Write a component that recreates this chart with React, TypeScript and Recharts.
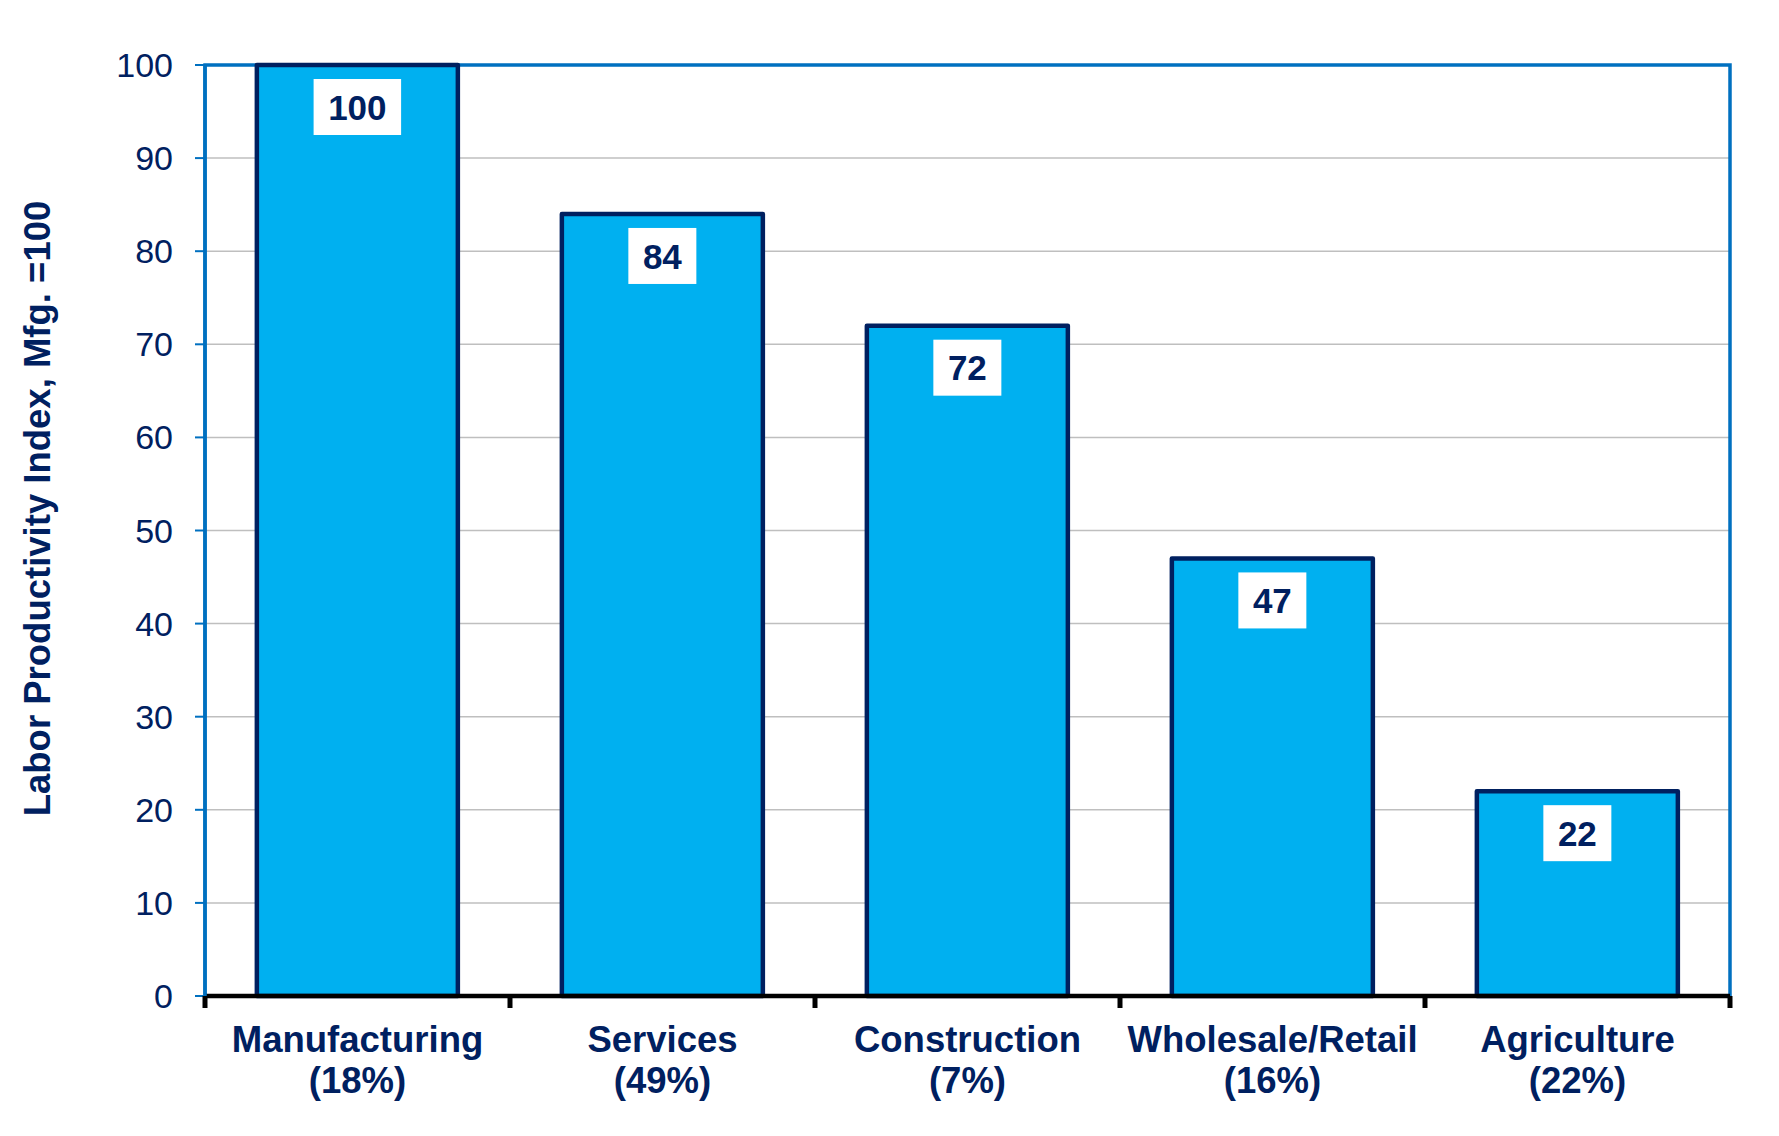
import { BarChart, Bar, XAxis, YAxis, CartesianGrid, LabelList, ReferenceArea } from 'recharts';

const sectors = ['Manufacturing', 'Services', 'Construction', 'Wholesale/Retail', 'Agriculture'];
const employmentShares = ['(18%)', '(49%)', '(7%)', '(16%)', '(22%)'];
const productivityIndex = [100, 84, 72, 47, 22];
const yTicks = [0, 10, 20, 30, 40, 50, 60, 70, 80, 90, 100];
const yTitle = 'Labor Productivity Index, Mfg. =100';

const NAVY = '#002060';
const BORDER_BLUE = '#0070C0';
const BAR_FILL = '#00B0F0';
const FONT = '"Liberation Sans", Arial, sans-serif';

const CHART_W = 1771;
const CHART_H = 1128;
const MARGIN = { top: 57, right: 49, bottom: 10, left: 0 };
const Y_AXIS_W = 197;
const X_AXIS_H = 130;
// width of one category band, used to put the x ticks on the band edges
const BAND = (CHART_W - MARGIN.left - MARGIN.right - Y_AXIS_W) / sectors.length;

const data = sectors.map((sector, i) => ({
  sector,
  share: employmentShares[i],
  value: productivityIndex[i],
}));

function CategoryTick(props: any) {
  const { x, y, payload } = props;
  const index = sectors.indexOf(payload.value);
  const half = BAND / 2;
  const isLast = index === sectors.length - 1;
  const textProps = {
    textAnchor: 'middle' as const,
    fill: NAVY,
    fontSize: 36.5,
    fontWeight: 'bold',
    fontFamily: FONT,
  };
  return (
    <g>
      <line x1={x - half} x2={x - half} y1={y} y2={y + 12} stroke="#000" strokeWidth={5} />
      {isLast && <line x1={x + half} x2={x + half} y1={y} y2={y + 12} stroke="#000" strokeWidth={5} />}
      <text x={x} y={y + 56} {...textProps}>
        {payload.value}
      </text>
      <text x={x} y={y + 97} {...textProps}>
        {employmentShares[index]}
      </text>
    </g>
  );
}

function ValueBadge(props: any) {
  const { x, y, width, value } = props;
  const text = String(value);
  const boxW = text.length * 19.5 + 29;
  const cx = Number(x) + Number(width) / 2;
  const top = Number(y) + 14;
  return (
    <g>
      <rect x={cx - boxW / 2} y={top} width={boxW} height={56} fill="#ffffff" />
      <text
        x={cx}
        y={top + 28}
        dy="0.36em"
        textAnchor="middle"
        fill={NAVY}
        fontSize={35}
        fontWeight="bold"
        fontFamily={FONT}
      >
        {text}
      </text>
    </g>
  );
}

function YTitle(props: any) {
  const { viewBox } = props;
  const cx = viewBox.x + 29;
  const cy = viewBox.y + viewBox.height / 2 - 22;
  return (
    <text
      x={cx}
      y={cy}
      dy="0.36em"
      transform={`rotate(-90, ${cx}, ${cy})`}
      textAnchor="middle"
      fill={NAVY}
      fontSize={36.5}
      fontWeight="bold"
      fontFamily={FONT}
    >
      {yTitle}
    </text>
  );
}

export default function App() {
  return (
    <div style={{ width: CHART_W, height: CHART_H, background: '#ffffff', fontFamily: FONT }}>
      <BarChart width={CHART_W} height={CHART_H} data={data} margin={MARGIN} barCategoryGap="17%">
        <CartesianGrid vertical={false} stroke="#BFBFBF" strokeWidth={1.5} />
        <XAxis
          dataKey="sector"
          height={X_AXIS_H}
          interval={0}
          tickSize={0}
          tickMargin={0}
          tickLine={false}
          axisLine={{ stroke: '#000000', strokeWidth: 4.5 }}
          tick={<CategoryTick />}
        />
        <YAxis
          width={Y_AXIS_W}
          domain={[0, 100]}
          ticks={yTicks}
          interval={0}
          tickSize={10}
          tickMargin={22}
          axisLine={{ stroke: BORDER_BLUE, strokeWidth: 3.5 }}
          tickLine={{ stroke: BORDER_BLUE, strokeWidth: 2 }}
          tick={{ fill: NAVY, fontSize: 34, fontFamily: FONT }}
          label={<YTitle />}
        />
        <ReferenceArea y1={0} y2={100} fill="none" stroke={BORDER_BLUE} strokeWidth={3.5} ifOverflow="visible" />
        <Bar
          dataKey="value"
          fill={BAR_FILL}
          stroke={NAVY}
          strokeWidth={4.5}
          strokeLinejoin="round"
          isAnimationActive={false}
        >
          <LabelList dataKey="value" content={<ValueBadge />} />
        </Bar>
      </BarChart>
    </div>
  );
}
